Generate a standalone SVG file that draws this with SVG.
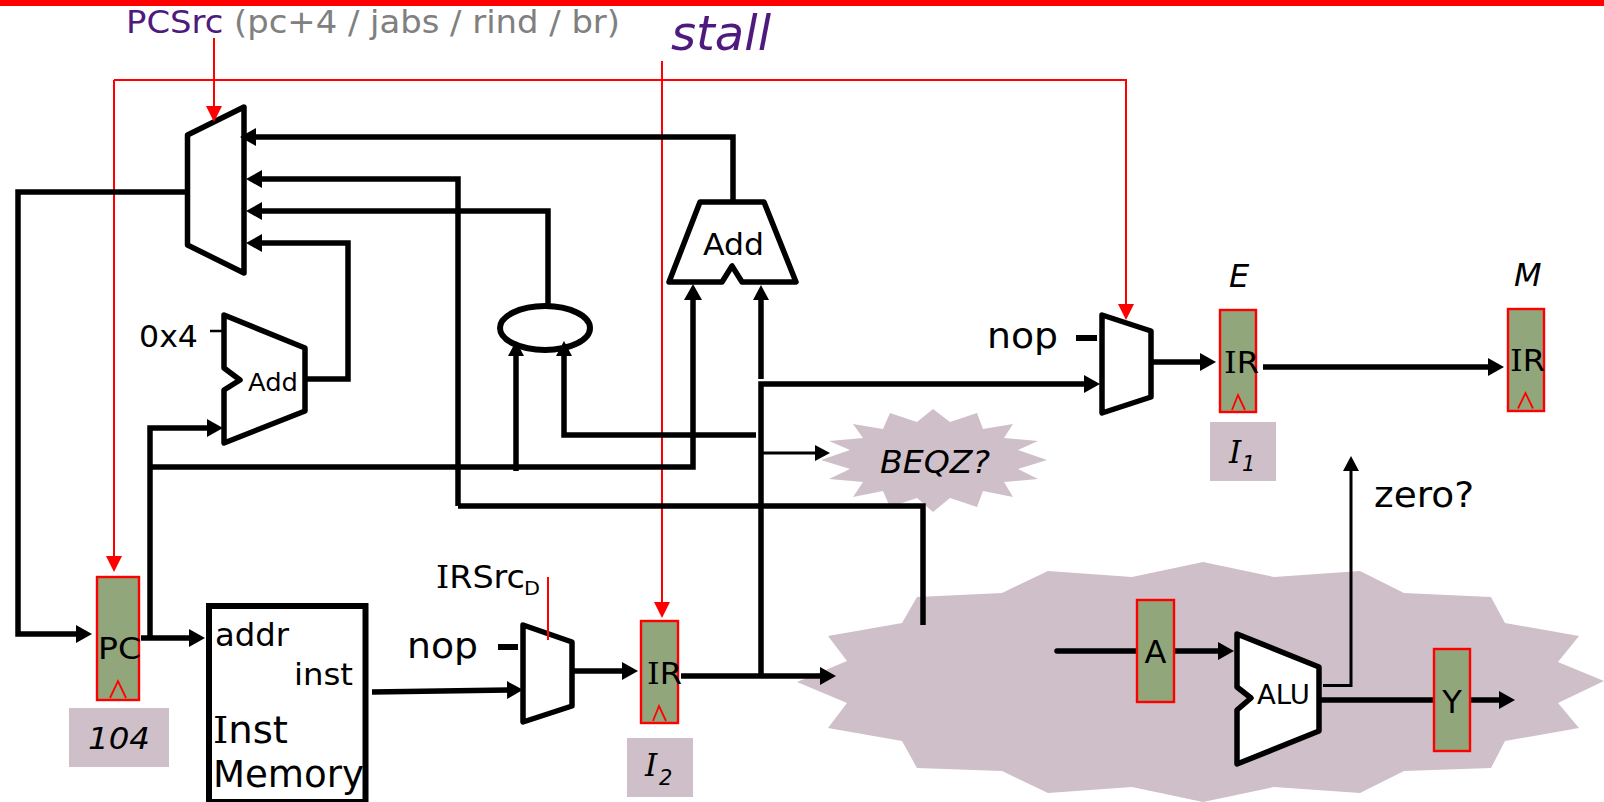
<svg xmlns="http://www.w3.org/2000/svg" width="1604" height="802" viewBox="0 0 1604 802">
<style>
text{font-family:"DejaVu Sans",sans-serif;fill:#000}
.it{font-style:italic}
.s{font-family:"DejaVu Serif",serif}
.w{fill:none;stroke:#000;stroke-width:5.5;stroke-linejoin:miter}
.t{fill:none;stroke:#000;stroke-width:3}
.r{fill:none;stroke:#f00;stroke-width:2}
.m{fill:#fff;stroke:#000;stroke-width:5.5;stroke-linejoin:round}
.g{fill:#92a67c;stroke:#f00;stroke-width:2.4}
.c{fill:#cfbfc9}
.k{fill:none;stroke:#f00;stroke-width:1.8}
</style>
<defs>
<marker id="a" markerUnits="userSpaceOnUse" markerWidth="16" markerHeight="18" refX="2" refY="9" orient="auto"><path d="M0,0L16,9L0,18z" fill="#000"/></marker>
<marker id="b" markerUnits="userSpaceOnUse" markerWidth="15" markerHeight="16" refX="2" refY="8" orient="auto"><path d="M0,0L15,8L0,16z" fill="#000"/></marker>
<marker id="c" markerUnits="userSpaceOnUse" markerWidth="16" markerHeight="16" refX="2" refY="8" orient="auto"><path d="M0,0L16,8L0,16z" fill="#f00"/></marker>
</defs>
<rect id="top-bar" x="0" y="0" width="1604" height="6" fill="#f00"/>
<g id="cloud-big"><polygon class="c" points="1203,562 1274,577 1360,571 1404,593 1491,597 1505,623 1579,636 1558,662 1604,681 1558,703 1579,728 1505,741 1491,768 1404,771 1360,793 1274,787 1203,802 1132,787 1048,793 1002,771 917,768 902,741 828,728 847,703 797,682 847,661 828,636 902,623 917,597 1002,593 1048,571 1132,577"/></g>
<g id="cloud-beqz"><polygon class="c" points="933,409 950,422 977,413 983,429 1013,424 1004,438 1038,441 1018,450 1047,460 1018,469 1038,479 1004,482 1013,497 983,491 977,507 950,498 933,512 917,498 890,507 883,491 853,497 863,482 829,479 850,469 821,460 850,450 829,441 863,438 853,424 883,429 890,413 917,422"/>
<text class="it" x="880" y="473" font-size="32" textLength="110" lengthAdjust="spacingAndGlyphs">BEQZ?</text></g>
<g id="mux-pc"><polygon class="m" points="187.500,135 244,107 244,273 187.500,245"/></g>
<g id="ext"><ellipse class="w" style="stroke-width:6" cx="545" cy="328" rx="45" ry="22"/></g>
<g id="mux-d"><polygon class="m" points="523,625 572,642 572,706 523,722"/></g>
<g id="mux-e"><polygon class="m" points="1102,315 1151,331 1151,397 1102,413"/></g>
<g id="connectors">
<path class="r" d="M114,80H1126V306" marker-end="url(#c)"/>
<path class="r" d="M114,80V558" marker-end="url(#c)"/>
<path class="r" d="M662,61V604" marker-end="url(#c)"/>
<path class="w" d="M733,201V137H254" marker-end="url(#a)"/>
<path class="w" d="M458,506V179H260" marker-end="url(#a)"/>
<path class="w" d="M923,625V506H458"/>
<path class="w" d="M548,305V211H260" marker-end="url(#a)"/>
<path class="w" d="M306,379H348V243H260" marker-end="url(#a)"/>
<path class="w" d="M186,192H18V634H78" marker-end="url(#a)"/>
<path class="w" d="M141,638H191" marker-end="url(#a)"/>
<path class="w" d="M150,638V428H209" marker-end="url(#a)"/>
<path class="w" d="M150,467H693V298" marker-end="url(#a)"/>
<path class="w" d="M516,471V354" marker-end="url(#b)"/>
<path class="w" d="M756,435H564V354" marker-end="url(#b)"/>
<path class="w" d="M761,379V298" marker-end="url(#b)"/>
<path class="w" d="M681,676H822" marker-end="url(#a)"/>
<path class="w" d="M761,676V384H1086" marker-end="url(#a)"/>
<path class="t" d="M761,453H817" marker-end="url(#b)"/>
<path class="w" d="M372,692L509,690" marker-end="url(#a)"/>
<path class="w" d="M574,671H624" marker-end="url(#a)"/>
<path class="w" d="M1152,362H1202" marker-end="url(#a)"/>
<path class="w" d="M1263,367H1490" marker-end="url(#a)"/>
<path class="w" d="M1057,651H1220" stroke-linecap="round" marker-end="url(#a)"/>
<path class="w" d="M1320,700H1501" marker-end="url(#a)"/>
<path class="t" d="M1323,685.500H1351V469" marker-end="url(#b)"/>
<path class="w" d="M210,331H224" style="stroke-width:2.5"/>
<path class="w" d="M498,647H518" style="stroke-width:6"/>
<path class="w" d="M1076,338H1097" style="stroke-width:6"/>
<path class="r" d="M214,38V108" marker-end="url(#c)"/>
<path class="r" d="M548,577V640"/>
</g>
<text id="pcsrc" x="126" y="33" font-size="32" textLength="494" lengthAdjust="spacingAndGlyphs"><tspan style="fill:#4f1a7d">PCSrc</tspan><tspan style="fill:#808080"> (pc+4 / jabs / rind / br)</tspan></text>
<text id="stall" class="it" x="671" y="50" font-size="48" textLength="100" lengthAdjust="spacingAndGlyphs" style="fill:#4f1a7d">stall</text>
<g id="add-branch"><polygon class="m" points="700,202 764,202 796,282 742,282 732,266 722,282 669,282"/><text x="703" y="255" font-size="31" textLength="61" lengthAdjust="spacingAndGlyphs">Add</text></g>
<g id="add-pc"><polygon class="m" points="224,315 305,348 305,411 224,443 224,390 240,380 224,368"/><text x="248" y="391" font-size="25" textLength="50" lengthAdjust="spacingAndGlyphs">Add</text><text x="139" y="347" font-size="31" textLength="59" lengthAdjust="spacingAndGlyphs">0x4</text></g>
<g id="reg-pc"><rect class="g" x="97" y="577" width="42" height="123"/><text x="98" y="659" font-size="31" textLength="43" lengthAdjust="spacingAndGlyphs">PC</text><path class="k" d="M110,698L118,681L126,698"/></g>
<g id="val-104"><rect class="c" x="69" y="708" width="100" height="59"/><text class="it" x="88" y="749" font-size="31" textLength="62" lengthAdjust="spacingAndGlyphs">104</text></g>
<g id="inst-mem"><rect x="209" y="606" width="156.500" height="196" fill="#fff" stroke="#000" stroke-width="6"/>
<text x="215" y="646" font-size="32" textLength="74" lengthAdjust="spacingAndGlyphs">addr</text><text x="294" y="685" font-size="31" textLength="59" lengthAdjust="spacingAndGlyphs">inst</text><text x="213" y="743" font-size="37" textLength="75" lengthAdjust="spacingAndGlyphs"><tspan class="s">I</tspan>nst</text><text x="213" y="787" font-size="37" textLength="151" lengthAdjust="spacingAndGlyphs">Memory</text></g>
<g id="irsrc"><text x="436" y="588" font-size="32" textLength="89" lengthAdjust="spacingAndGlyphs"><tspan class="s">I</tspan>RSrc</text><text x="524" y="595" font-size="19" textLength="16" lengthAdjust="spacingAndGlyphs">D</text></g>
<text id="nop-d" x="407" y="658" font-size="36" textLength="71" lengthAdjust="spacingAndGlyphs">nop</text>
<g id="reg-ir-d"><rect class="g" x="641" y="621" width="37" height="102"/><text x="647" y="684" font-size="30" textLength="35" lengthAdjust="spacingAndGlyphs"><tspan class="s">I</tspan>R</text><path class="k" d="M653,721L659,706L666,721"/></g>
<g id="val-i2"><rect class="c" x="627" y="738" width="66" height="59"/><text class="it" x="645" y="776" font-size="31"><tspan class="s">I</tspan></text><text class="it" x="659" y="785" font-size="21">2</text></g>
<text id="nop-e" x="987" y="348" font-size="36" textLength="71" lengthAdjust="spacingAndGlyphs">nop</text>
<g id="reg-ir-e"><rect class="g" x="1220" y="310" width="36" height="102"/><text x="1224" y="373" font-size="30" textLength="35" lengthAdjust="spacingAndGlyphs"><tspan class="s">I</tspan>R</text><path class="k" d="M1232,410L1238,395L1245,410"/></g>
<text id="label-e" class="it" x="1229" y="287" font-size="32">E</text>
<g id="val-i1"><rect class="c" x="1210" y="422" width="66" height="59"/><text class="it" x="1229" y="463" font-size="31"><tspan class="s">I</tspan></text><text class="it" x="1242" y="471" font-size="21">1</text></g>
<g id="reg-ir-m"><rect class="g" x="1508" y="309" width="36" height="102"/><text x="1510" y="371" font-size="30" textLength="35" lengthAdjust="spacingAndGlyphs"><tspan class="s">I</tspan>R</text><path class="k" d="M1518,408.500L1525.500,393L1533,408.500"/></g>
<text id="label-m" class="it" x="1514" y="286" font-size="32">M</text>
<text id="zero" x="1374" y="507" font-size="36" textLength="100" lengthAdjust="spacingAndGlyphs">zero?</text>
<g id="reg-a"><rect class="g" x="1137" y="600" width="37" height="102"/><text x="1155.500" y="663" font-size="32" text-anchor="middle">A</text></g>
<g id="alu"><polygon class="m" points="1237,634 1319,667 1319,731 1237,764 1237,710 1251,698 1237,687"/><text x="1257" y="704" font-size="26" textLength="53" lengthAdjust="spacingAndGlyphs">ALU</text></g>
<g id="reg-y"><rect class="g" x="1434" y="649" width="36" height="102"/><text x="1452" y="713" font-size="32" text-anchor="middle">Y</text></g>
</svg>
